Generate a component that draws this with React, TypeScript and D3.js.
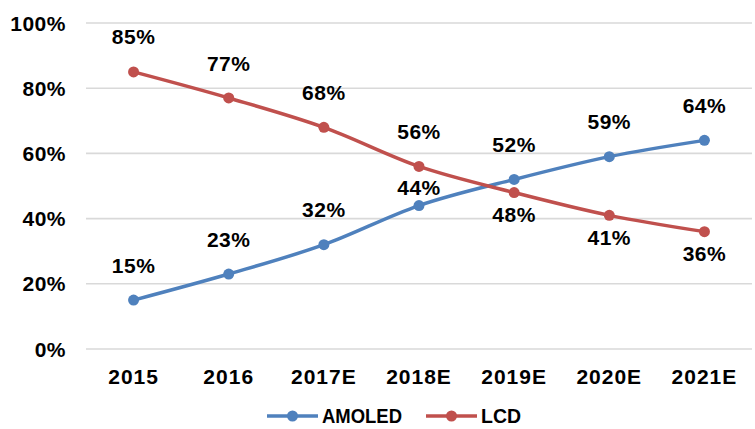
import * as d3 from "d3";

const years = ["2015", "2016", "2017E", "2018E", "2019E", "2020E", "2021E"];
const amoledShare = [15, 23, 32, 44, 52, 59, 64];
const lcdShare = [85, 77, 68, 56, 48, 41, 36];
const yTicks = [0, 20, 40, 60, 80, 100];
// where each data label sits relative to its point
const amoledLabelSide = ["above", "above", "above", "near", "above", "above", "above"];
const lcdLabelSide = ["above", "above", "above", "above", "below", "below", "below"];

const seriesList = [
  { key: "amoled", label: "AMOLED", values: amoledShare, sides: amoledLabelSide, color: "#4f81bd" },
  { key: "lcd", label: "LCD", values: lcdShare, sides: lcdLabelSide, color: "#c0504d" }
];

const labelOffset: Record<string, number> = { above: -35, below: 22, near: -18 };

export default function App() {
  const width = 755;
  const height = 429;
  const margin = { top: 23, right: 3, bottom: 80, left: 86 };
  const x = d3.scaleBand(years, [margin.left, width - margin.right]);
  const y = d3.scaleLinear([0, 100], [height - margin.bottom, margin.top]);
  const cx = (year: string) => (x(year) ?? 0) + x.bandwidth() / 2;
  const line = d3
    .line<number>()
    .x((_, i) => cx(years[i]))
    .y((v) => y(v))
    .curve(d3.curveMonotoneX);
  const font = "'Liberation Sans', Arial, sans-serif";
  const legendY = 416;
  const legendItems = [
    { s: seriesList[0], x0: 267, textWidth: 80 },
    { s: seriesList[1], x0: 426, textWidth: 40 }
  ];

  return (
    <svg
      width={width}
      height={height}
      viewBox={`0 0 ${width} ${height}`}
      style={{ position: "absolute", left: 0, top: 0, background: "#fff" }}
      fontFamily={font}
      fontWeight="bold"
    >
      {yTicks.map((tick) => (
        <g key={tick}>
          <line
            x1={margin.left}
            x2={width - margin.right}
            y1={y(tick)}
            y2={y(tick)}
            stroke="#d9d9d9"
            strokeWidth="1.6"
          />
          <text x={66} y={y(tick)} dy="0.36em" textAnchor="end" fontSize="21" letterSpacing="0.5" fill="#000">
            {tick}%
          </text>
        </g>
      ))}
      {years.map((year) => (
        <text key={year} x={cx(year)} y={376} dy="0.36em" textAnchor="middle" fontSize="21" letterSpacing="1" fill="#000">
          {year}
        </text>
      ))}
      {seriesList.map((s) => (
        <g key={s.key}>
          <path d={line(s.values) ?? undefined} fill="none" stroke={s.color} strokeWidth="3.5" strokeLinejoin="round" />
          {s.values.map((v, i) => (
            <circle key={years[i]} cx={cx(years[i])} cy={y(v)} r="5.5" fill={s.color} />
          ))}
          {s.values.map((v, i) => (
            <text
              key={`l-${years[i]}`}
              x={cx(years[i])}
              y={y(v) + labelOffset[s.sides[i]]}
              dy="0.36em"
              textAnchor="middle"
              fontSize="21"
              letterSpacing="0.5"
              fill="#000"
            >
              {v}%
            </text>
          ))}
        </g>
      ))}
      {legendItems.map(({ s, x0, textWidth }) => (
        <g key={s.key}>
          <line x1={x0} x2={x0 + 51} y1={legendY} y2={legendY} stroke={s.color} strokeWidth="3.5" />
          <circle cx={x0 + 25.5} cy={legendY} r="5.5" fill={s.color} />
          <text
            x={x0 + 55}
            y={legendY}
            dy="0.36em"
            fontSize="20"
            textLength={textWidth}
            lengthAdjust="spacingAndGlyphs"
            fill="#000"
          >
            {s.label}
          </text>
        </g>
      ))}
    </svg>
  );
}
